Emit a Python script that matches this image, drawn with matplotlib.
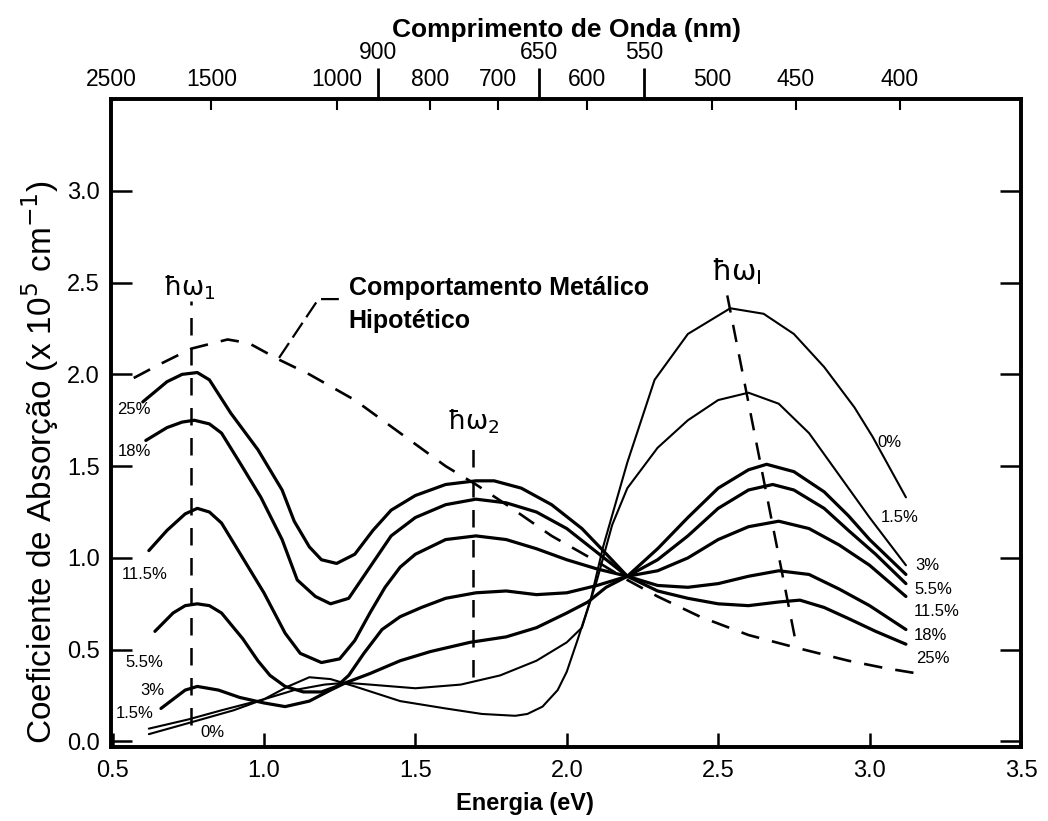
import matplotlib
matplotlib.use("Agg")
import matplotlib.pyplot as plt

plt.rcParams['font.family'] = ['Liberation Sans', 'DejaVu Sans']
plt.rcParams['mathtext.fontset'] = 'dejavusans'

# curvas de absorção (energia em eV, coef. em 10^5 cm^-1)
e_0 = [0.62, 0.75, 0.9, 1.0, 1.08, 1.15, 1.22, 1.3, 1.45, 1.6, 1.72, 1.83, 1.87, 1.92, 1.97, 2.0,
       2.035, 2.08, 2.12, 2.2, 2.29, 2.4, 2.54, 2.65, 2.75, 2.85, 2.95, 3.01, 3.07, 3.12]
v_0 = [0.04, 0.10, 0.17, 0.23, 0.30, 0.35, 0.34, 0.30, 0.22, 0.18, 0.15, 0.14, 0.15, 0.19, 0.28, 0.38,
       0.55, 0.78, 1.06, 1.52, 1.97, 2.22, 2.36, 2.33, 2.22, 2.04, 1.82, 1.66, 1.48, 1.33]

e_15 = [0.62, 0.75, 0.86, 1.0, 1.1, 1.2, 1.27, 1.35, 1.5, 1.65, 1.78, 1.9, 2.0, 2.05, 2.1,
        2.15, 2.2, 2.3, 2.4, 2.5, 2.6, 2.7, 2.8, 2.9, 3.0, 3.12]
v_15 = [0.07, 0.12, 0.17, 0.23, 0.28, 0.31, 0.32, 0.31, 0.29, 0.31, 0.36, 0.44, 0.54, 0.62, 0.88,
        1.18, 1.38, 1.60, 1.75, 1.86, 1.90, 1.84, 1.68, 1.45, 1.22, 0.96]

e_3 = [0.66, 0.7, 0.74, 0.78, 0.85, 0.92, 1.0, 1.07, 1.15, 1.22, 1.27, 1.35, 1.45, 1.55, 1.68, 1.8,
       1.9, 2.0, 2.07, 2.13, 2.2, 2.3, 2.4, 2.5, 2.6, 2.66, 2.75, 2.85, 2.93, 3.0, 3.12]
v_3 = [0.18, 0.23, 0.28, 0.30, 0.28, 0.24, 0.21, 0.19, 0.22, 0.28, 0.32, 0.37, 0.44, 0.49, 0.54, 0.57,
       0.62, 0.70, 0.76, 0.84, 0.90, 1.05, 1.22, 1.38, 1.48, 1.51, 1.47, 1.36, 1.23, 1.10, 0.91]

e_55 = [0.64, 0.7, 0.74, 0.78, 0.82, 0.86, 0.93, 0.98, 1.02, 1.07, 1.13, 1.19, 1.24, 1.28, 1.33, 1.39, 1.45,
        1.52, 1.6, 1.7, 1.8, 1.9, 2.0, 2.1, 2.2, 2.3, 2.4, 2.5, 2.6, 2.68, 2.75, 2.85, 2.93, 3.02, 3.12]
v_55 = [0.60, 0.70, 0.74, 0.75, 0.74, 0.70, 0.56, 0.44, 0.36, 0.30, 0.27, 0.27, 0.30, 0.36, 0.48, 0.61, 0.68,
        0.73, 0.78, 0.81, 0.82, 0.80, 0.81, 0.85, 0.90, 0.99, 1.12, 1.27, 1.37, 1.40, 1.37, 1.27, 1.15, 1.02, 0.86]

e_115 = [0.62, 0.68, 0.74, 0.78, 0.82, 0.86, 0.93, 1.0, 1.07, 1.12, 1.19, 1.25, 1.3, 1.35, 1.4, 1.45, 1.5,
         1.6, 1.7, 1.8, 1.9, 2.0, 2.1, 2.2, 2.3, 2.4, 2.5, 2.6, 2.7, 2.8, 2.9, 3.0, 3.12]
v_115 = [1.04, 1.15, 1.24, 1.27, 1.25, 1.19, 1.00, 0.81, 0.59, 0.48, 0.43, 0.45, 0.55, 0.70, 0.84, 0.95, 1.02,
         1.10, 1.12, 1.10, 1.05, 0.99, 0.94, 0.90, 0.93, 1.00, 1.10, 1.17, 1.20, 1.16, 1.07, 0.96, 0.79]

e_18 = [0.61, 0.68, 0.73, 0.77, 0.82, 0.86, 0.92, 0.99, 1.06, 1.11, 1.17, 1.22, 1.28, 1.35, 1.42, 1.5, 1.6,
        1.7, 1.8, 1.9, 2.0, 2.1, 2.2, 2.3, 2.4, 2.5, 2.6, 2.7, 2.8, 2.9, 3.0, 3.12]
v_18 = [1.64, 1.71, 1.74, 1.75, 1.73, 1.68, 1.52, 1.33, 1.10, 0.88, 0.79, 0.75, 0.78, 0.95, 1.12, 1.22, 1.29,
        1.32, 1.30, 1.25, 1.16, 1.03, 0.90, 0.85, 0.84, 0.86, 0.90, 0.93, 0.91, 0.83, 0.74, 0.61]

e_25 = [0.6, 0.68, 0.73, 0.78, 0.82, 0.89, 0.98, 1.06, 1.1, 1.15, 1.19, 1.24, 1.3, 1.36, 1.42, 1.5,
        1.6, 1.7, 1.76, 1.85, 1.95, 2.05, 2.12, 2.2, 2.3, 2.4, 2.5, 2.6, 2.7, 2.77, 2.85, 2.93, 3.02, 3.12]
v_25 = [1.85, 1.96, 2.00, 2.01, 1.97, 1.79, 1.59, 1.37, 1.20, 1.06, 0.99, 0.97, 1.02, 1.15, 1.26, 1.34,
        1.40, 1.42, 1.42, 1.38, 1.29, 1.16, 1.04, 0.90, 0.82, 0.78, 0.75, 0.74, 0.76, 0.77, 0.73, 0.67, 0.60, 0.53]

# comportamento metálico hipotético (tracejado)
e_met = [0.57, 0.65, 0.76, 0.88, 0.95, 1.05, 1.15, 1.3, 1.45, 1.6, 1.7, 1.81, 1.95, 2.11, 2.2,
         2.3, 2.44, 2.6, 2.76, 2.93, 3.05, 3.16]
v_met = [1.98, 2.05, 2.14, 2.19, 2.17, 2.08, 2.00, 1.86, 1.68, 1.50, 1.40, 1.28, 1.12, 0.97, 0.88,
         0.79, 0.68, 0.58, 0.51, 0.44, 0.40, 0.37]

# marcadores hw1, hw2, hwI
hw1_e = [0.76, 0.76]
hw1_v = [0.09, 2.40]
hw2_e = [1.69, 1.69]
hw2_v = [0.35, 1.63]
hwI_e = [2.53, 2.76]
hwI_v = [2.43, 0.51]

lambda_major = [900, 650, 550]
lambda_minor = [2500, 1500, 1000, 800, 700, 600, 500, 450, 400]

fig = plt.figure(figsize=(10.48, 8.21), dpi=100)
ax = fig.add_axes([111 / 1048, 1 - 747 / 821, 910 / 1048, 648 / 821])

thin = dict(color='black', lw=1.5, solid_capstyle='round', solid_joinstyle='round')
thick = dict(color='black', lw=2.3, solid_capstyle='round', solid_joinstyle='round')
ax.plot(e_0, v_0, **thin)
ax.plot(e_15, v_15, **thin)
ax.plot(e_3, v_3, **thick)
ax.plot(e_55, v_55, **thick)
ax.plot(e_115, v_115, **thick)
ax.plot(e_18, v_18, **thick)
ax.plot(e_25, v_25, **thick)
ax.plot(e_met, v_met, color='black', lw=1.9, dashes=(7, 5))

for xs, ys in [(hw1_e, hw1_v), (hw2_e, hw2_v), (hwI_e, hwI_v)]:
    ax.plot(xs, ys, color='black', lw=1.8, dashes=(7, 5))

ax.text(0.755, 2.47, 'ħω$_1$', fontsize=19, ha='center', va='center', family='DejaVu Sans')
ax.text(1.69, 1.74, 'ħω$_2$', fontsize=19, ha='center', va='center', family='DejaVu Sans')
ax.text(2.56, 2.56, r'ħω$_{\rm I}$', fontsize=21, ha='center', va='center', family='DejaVu Sans')

ax.text(1.28, 2.47, 'Comportamento Metálico', fontsize=18, fontweight='bold', va='center')
ax.text(1.28, 2.29, 'Hipotético', fontsize=18, fontweight='bold', va='center')
ax.plot([1.05, 1.18, 1.255], [2.09, 2.41, 2.41], color='black', lw=1.6, dashes=(8, 3))

lab = dict(fontsize=12, va='center', ha='center')
for x, y, s in [(0.572, 1.81, '25%'), (0.572, 1.58, '18%'), (0.605, 0.91, '11.5%'),
                (0.605, 0.43, '5.5%'), (0.63, 0.28, '3%'), (0.572, 0.15, '1.5%'),
                (0.83, 0.05, '0%')]:
    ax.text(x, y, s, **lab)
for x, y, s in [(3.067, 1.63, '0%'), (3.10, 1.22, '1.5%'), (3.19, 0.96, '3%'),
                (3.21, 0.83, '5.5%'), (3.22, 0.71, '11.5%'), (3.20, 0.58, '18%'),
                (3.21, 0.45, '25%')]:
    ax.text(x, y, s, **lab)

ax.set_xlim(0.495, 3.5)
ax.set_ylim(-0.03, 3.5)
ax.set_xticks([0.5, 1.0, 1.5, 2.0, 2.5, 3.0, 3.5])
ax.set_xticklabels(['0.5', '1.0', '1.5', '2.0', '2.5', '3.0', '3.5'])
ax.set_yticks([0.0, 0.5, 1.0, 1.5, 2.0, 2.5, 3.0])
ax.set_yticklabels(['0.0', '0.5', '1.0', '1.5', '2.0', '2.5', '3.0'])
ax.tick_params(axis='x', direction='in', length=10, width=1.8, labelsize=17, pad=9, top=False)
ax.tick_params(axis='y', direction='in', length=15, width=1.8, labelsize=17, pad=8, right=True)
for sp in ax.spines.values():
    sp.set_linewidth(2.6)

fig.text(40 / 1048, 1 - 462 / 821, 'Coeficiente de Absorção (x 10$^5$ cm$^{-1}$)', fontsize=24,
         rotation=90, ha='center', va='center')

# eixo superior: comprimento de onda, E = 1240 / lambda
ax2 = ax.twiny()
ax2.set_xlim(ax.get_xlim())
ax2.set_xticks([1240 / l for l in lambda_major])
ax2.set_xticklabels([str(l) for l in lambda_major])
ax2.set_xticks([1240 / l for l in lambda_minor], minor=True)
ax2.set_xticklabels([str(l) for l in lambda_minor], minor=True)
ax2.tick_params(which='major', direction='out', length=22, width=2.0, labelsize=16.5, pad=3)
ax2.tick_params(which='minor', direction='in', length=8, width=1.5, labelsize=16.5, pad=6)
for sp in ax2.spines.values():
    sp.set_linewidth(2.6)

fig.text(567 / 1048, 1 - 30 / 821, 'Comprimento de Onda (nm)', fontsize=19, fontweight='bold',
         ha='center', va='center')
fig.text(525 / 1048, 1 - 803 / 821, 'Energia (eV)', fontsize=17, fontweight='bold',
         ha='center', va='center')

fig.savefig('out.png', dpi=100)
